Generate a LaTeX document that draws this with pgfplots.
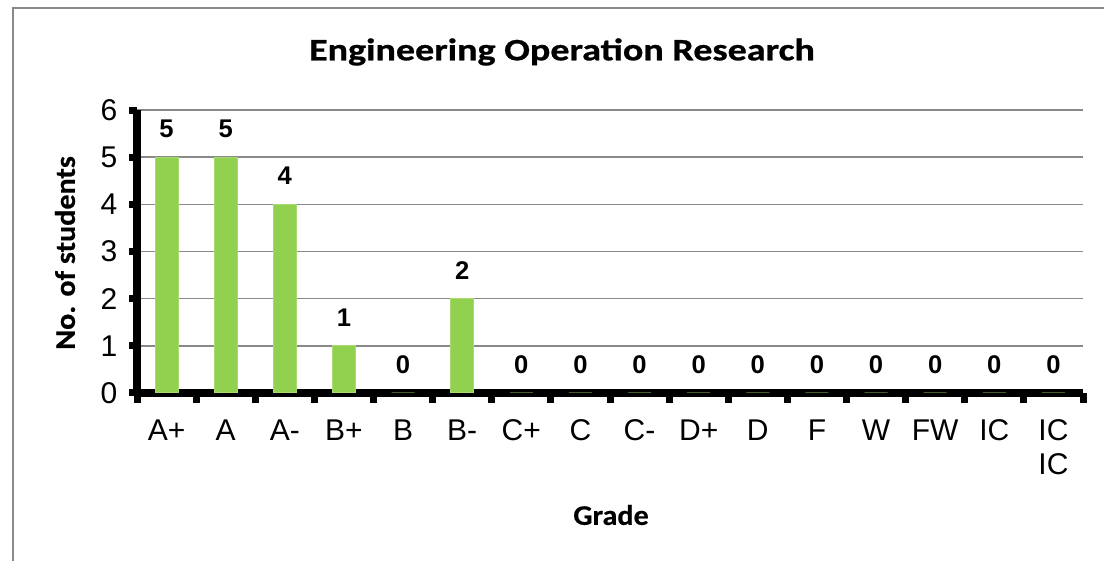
\documentclass[border=0pt]{standalone}
\usepackage{pgfplots}
\pgfplotsset{compat=1.18}
\usepackage{fontspec}
\setmainfont{Liberation Sans}
\newfontfamily\carlitotitle[FakeStretch=1.22, FakeBold=0.8]{Carlito}
\newfontfamily\carlito[FakeStretch=1.06, FakeBold=0.5]{Carlito}
\definecolor{bargreen}{HTML}{92D050}
\definecolor{gridgray}{HTML}{898989}
\begin{document}
\begin{tikzpicture}
\useasboundingbox (0,0) rectangle (552pt,280.5pt);
\draw[gridgray, line width=0.9pt] (6.5pt,-2pt) -- (6.5pt,276.5pt) -- (560pt,276.5pt);
\node[font=\carlitotitle\bfseries\fontsize{15.6}{18}\selectfont] at (281pt,254.5pt) {Engineering Operation Research};
\node[font=\carlito\bfseries\fontsize{14.2}{17}\selectfont] at (305.5pt,23pt) {Grade};
\node[font=\carlito\bfseries\fontsize{14.2}{17}\selectfont, rotate=90] at (32.5pt,154pt) {No. of students};
\begin{axis}[
  at={(68.5pt,84pt)}, anchor=south west,
  scale only axis, width=473pt, height=141.5pt,
  xmin=-0.5, xmax=15.5, ymin=0, ymax=6,
  axis x line=bottom, axis y line=left,
  axis line style={line width=3.6pt, black, -},
  xtick={0,...,15},
  xticklabels={A+,A,A-,B+,B,B-,C+,C,C-,D+,D,F,W,FW,IC,{IC\\IC}},
  x tick label style={align=center, font=\fontsize{15}{16.8}\selectfont, yshift=-6pt},
  minor xtick={-0.5,0.5,...,15.5},
  major x tick style={draw=none},
  minor tick length=5pt,
  ytick={0,...,6},
  major tick length=3.8pt,
  tick align=outside,
  tick style={line width=3.5pt, black},
  y tick label style={font=\fontsize{15}{16.8}\selectfont, xshift=-2.5pt},
  ymajorgrids,
  grid style={gridgray, line width=0.8pt},
  /pgf/number format/assume math mode=true,
  ybar, bar width=11.5pt,
  nodes near coords,
  every node near coord/.append style={font=\bfseries\fontsize{12.8}{14}\selectfont, inner sep=0pt, yshift=9.5pt, black},
  clip=false,
]
\addplot[fill=bargreen, draw=bargreen!80!white, line width=0.5pt] coordinates {
(0,5) (1,5) (2,4) (3,1) (4,0) (5,2) (6,0) (7,0) (8,0) (9,0) (10,0) (11,0) (12,0) (13,0) (14,0) (15,0)};
\end{axis}
\end{tikzpicture}
\end{document}
